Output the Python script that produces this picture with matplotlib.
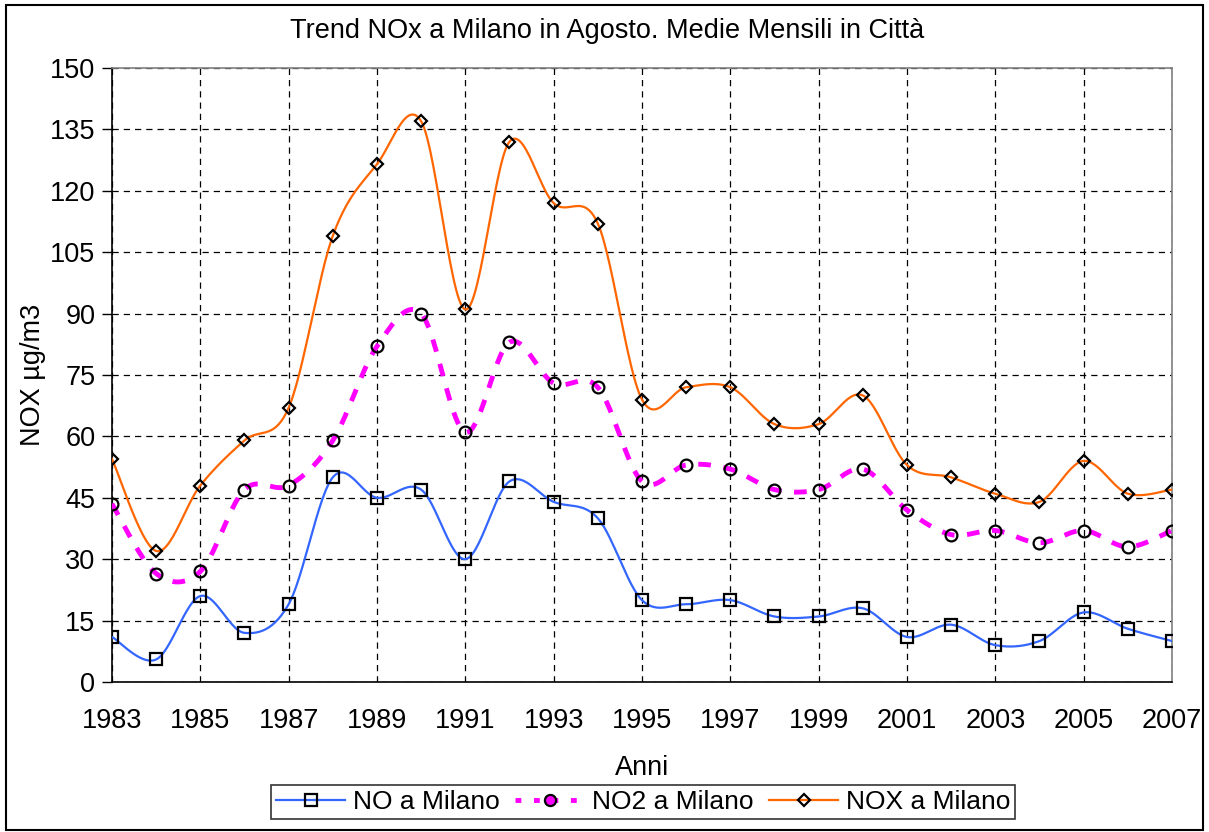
import numpy as np
import matplotlib
matplotlib.use('Agg')
from matplotlib import pyplot as plt
from matplotlib.patches import Rectangle

plt.rcParams['font.family'] = ['Liberation Sans', 'DejaVu Sans']

# dati
anni = list(range(1983, 2008))
no = [11, 5.5, 21, 12, 19, 50, 45, 47, 30, 49, 44, 40, 20, 19, 20, 16, 16, 18,
      11, 14, 9, 10, 17, 13, 10]
no2 = [43.5, 26.5, 27, 47, 48, 59, 82, 90, 61, 83, 73, 72, 49, 53, 52, 47, 47,
       52, 42, 36, 37, 34, 37, 33, 37]
nox = [54.5, 32, 48, 59, 67, 109, 126.5, 137, 91, 132, 117, 112, 69, 72, 72,
       63, 63, 70, 53, 50, 46, 44, 54, 46, 47]
etichette_x = [str(a) for a in range(1983, 2008, 2)]


def liscia(x, y, n=30):
    # curva smussata tipo Excel (bezier con tangenti catmull-rom)
    x = np.asarray(x, float)
    y = np.asarray(y, float)
    px, py = [], []
    for i in range(len(x) - 1):
        x0, y0 = (x[i - 1], y[i - 1]) if i > 0 else (x[i], y[i])
        x3, y3 = (x[i + 2], y[i + 2]) if i + 2 < len(x) else (x[i + 1], y[i + 1])
        x1, y1 = x[i], y[i]
        x2, y2 = x[i + 1], y[i + 1]
        c1x = x1 + (x2 - x0) / 6
        c1y = y1 + (y2 - y0) / 6
        c2x = x2 - (x3 - x1) / 6
        c2y = y2 - (y3 - y1) / 6
        t = np.linspace(0, 1, n)
        bx = (1-t)**3*x1 + 3*(1-t)**2*t*c1x + 3*(1-t)*t**2*c2x + t**3*x2
        by = (1-t)**3*y1 + 3*(1-t)**2*t*c1y + 3*(1-t)*t**2*c2y + t**3*y2
        px.extend(bx)
        py.extend(by)
    return np.array(px), np.array(py)


fig = plt.figure(figsize=(12.09, 8.32), dpi=100)
ax = fig.add_axes([0.0926, 0.1803, 0.8768, 0.738])

blu = '#3366FF'
mag = '#FF00FF'
ara = '#FF6600'

sx, sy = liscia(anni, no)
ax.plot(sx, sy, color=blu, lw=1.6, zorder=3)
sx, sy = liscia(anni, no2)
ax.plot(sx, sy, color=mag, lw=3.5, dashes=(2.6, 2.6), zorder=3)
sx, sy = liscia(anni, nox)
ax.plot(sx, sy, color=ara, lw=1.6, zorder=3)

ax.plot(anni, no, ls='none', marker='s', ms=8, mfc='none', mec='black',
        mew=1.6, zorder=4)
ax.plot(anni, no2, ls='none', marker='o', ms=8.5, mfc='none', mec='black',
        mew=1.6, zorder=4)
ax.plot(anni, nox, ls='none', marker='D', ms=6.5, mfc='none', mec='black',
        mew=1.6, zorder=4)

# voci della legenda
ax.plot([], [], color=blu, lw=1.6, marker='s', ms=8, mfc='none', mec='black',
        mew=1.6, label='NO a Milano')
ax.plot([], [], color=mag, lw=3.5, dashes=(1.2, 2.6), marker='o', ms=8,
        mfc=mag, mec='black', mew=1.6, label='NO2 a Milano')
ax.plot([], [], color=ara, lw=1.6, marker='D', ms=6.5, mfc='none', mec='black',
        mew=1.6, label='NOX a Milano')

ax.set_xlim(1983, 2007)
ax.set_ylim(0, 150)
ax.set_xticks(range(1983, 2008, 2))
ax.set_xticklabels(etichette_x)
ax.set_yticks(range(0, 151, 15))
ax.tick_params(axis='x', length=0, labelsize=19.5, pad=19)
ax.tick_params(axis='y', length=7, width=1, direction='out', labelsize=19.5, pad=5)
ax.grid(True, color='black', ls=(0, (5, 4)), lw=0.9)
ax.set_axisbelow(True)

for lato in ['top', 'right']:
    ax.spines[lato].set_color('#808080')
    ax.spines[lato].set_linewidth(1.2)
for lato in ['left', 'bottom']:
    ax.spines[lato].set_color('black')
    ax.spines[lato].set_linewidth(1.2)

ax.set_xlabel('Anni', fontsize=19.5, labelpad=15)
ax.set_ylabel('NOX µg/m3', fontsize=19.5, labelpad=3)
fig.text(0.502, 0.963, 'Trend NOx a Milano in Agosto. Medie Mensili in Città',
         ha='center', va='center', fontsize=19.5)

leg = fig.legend(loc='center', bbox_to_anchor=(0.532, 0.036), ncol=3,
                 fontsize=19, frameon=True, fancybox=False, edgecolor='black',
                 handlelength=2.6, handletextpad=0.3, columnspacing=0.6,
                 borderpad=0.2)
leg.get_frame().set_linewidth(1.2)

fig.patches.append(Rectangle((0.005, 0.003), 0.99, 0.991, transform=fig.transFigure,
                             fill=False, edgecolor='black', lw=1.5))

fig.savefig('out.png', dpi=100, facecolor='white')
